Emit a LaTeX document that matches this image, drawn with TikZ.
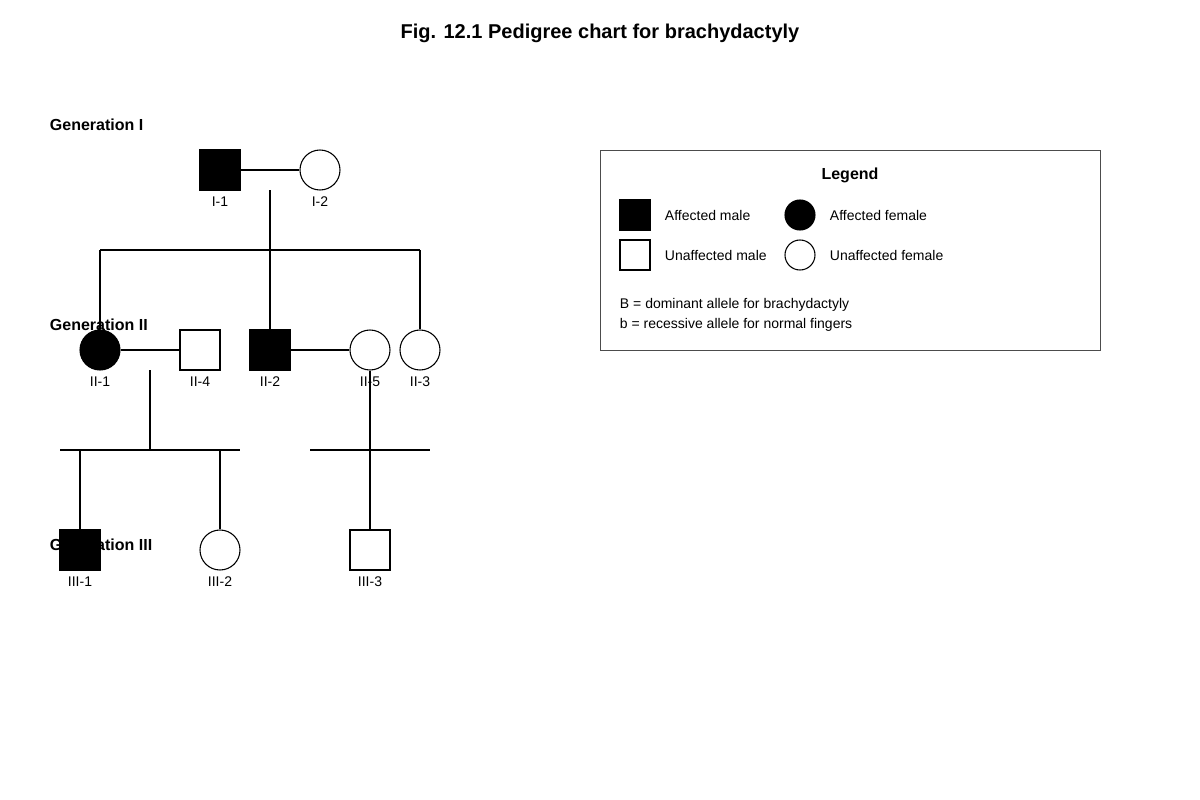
\documentclass[tikz,border=0pt]{standalone}
\usepackage{fontspec}
\setmainfont{Liberation Sans}
\usetikzlibrary{positioning}

\begin{document}
\begin{tikzpicture}[x=0.75pt, y=-0.75pt, thick,
        gen_style/.style={anchor=west,font=\fontsize{12}{14}\selectfont\bfseries},
        male_style/.style={draw=black,fill=white,minimum size=30pt,inner sep=0pt},
        female_style/.style={circle,draw=black,fill=white,minimum size=30pt,inner sep=0pt},
        affected/.style={fill=black},
        id_style/.style={font=\fontsize{10.5}{12}\selectfont},
        key_style/.style={anchor=west,font=\fontsize{10.5}{12}\selectfont},
        edge_style/.style={draw=black, thick,-}]
        \useasboundingbox (0,0) rectangle (1200,800);

        \node (title) at (600,33) {\fontsize{15}{18}\selectfont\bfseries Fig. 12.1 Pedigree chart for brachydactyly};
        \node [gen_style](g1) at (45,125) {Generation I};
        \node [gen_style](g2) at (45,325) {Generation II};
        \node [gen_style](g3) at (45,545) {Generation III};

        % generation I
        \node [male_style,affected](i1) at (220,170) {};
        \node [female_style](i2) at (320,170) {};
        % generation II
        \node [female_style,affected](ii1) at (100,350) {};
        \node [male_style](ii4) at (200,350) {};
        \node [male_style,affected](ii2) at (270,350) {};
        \node [female_style](ii5) at (370,350) {};
        \node [female_style](ii3) at (420,350) {};
        % generation III
        \node [male_style,affected](iii1) at (80,550) {};
        \node [female_style](iii2) at (220,550) {};
        \node [male_style](iii3) at (370,550) {};

        \foreach \n/\t in {i1/I-1,i2/I-2,ii1/II-1,ii4/II-4,ii2/II-2,ii5/II-5,ii3/II-3,iii1/III-1,iii2/III-2,iii3/III-3}
            \node [id_style,below=1pt of \n] {\t};

        \coordinate (m1) at (270,190);
        \coordinate (m2) at (150,370);
        \draw [edge_style] (i1) -- (i2);
        \draw [edge_style] (ii1) -- (ii4);
        \draw [edge_style] (ii2) -- (ii5);
        \draw [edge_style] (m1) -- (ii2);
        \draw [edge_style] (100,250) -- (420,250);
        \draw [edge_style] (100,250) -- (ii1);
        \draw [edge_style] (420,250) -- (ii3);
        \draw [edge_style] (m2) -- (150,450);
        \draw [edge_style] (60,450) -- (240,450);
        \draw [edge_style] (80,450) -- (iii1);
        \draw [edge_style] (220,450) -- (iii2);
        \draw [edge_style] (ii5) -- (iii3);
        \draw [edge_style] (310,450) -- (430,450);

        % legend
        \draw [thin,draw=black!70] (600,150) rectangle (1100,350);
        \node (leg) at (850,175) {\fontsize{12}{14}\selectfont\bfseries Legend};
        \node [male_style,affected,minimum size=22.5pt](k1) at (635,215) {};
        \node [key_style] at (660,215) {Affected male};
        \node [female_style,affected,minimum size=22.5pt](k2) at (800,215) {};
        \node [key_style] at (825,215) {Affected female};
        \node [male_style,minimum size=22.5pt](k3) at (635,255) {};
        \node [key_style] at (660,255) {Unaffected male};
        \node [female_style,minimum size=22.5pt](k4) at (800,255) {};
        \node [key_style] at (825,255) {Unaffected female};
        \node [key_style] at (615,305) {B = dominant allele for brachydactyly};
        \node [key_style] at (615,325) {b = recessive allele for normal fingers};
\end{tikzpicture}
\end{document}
